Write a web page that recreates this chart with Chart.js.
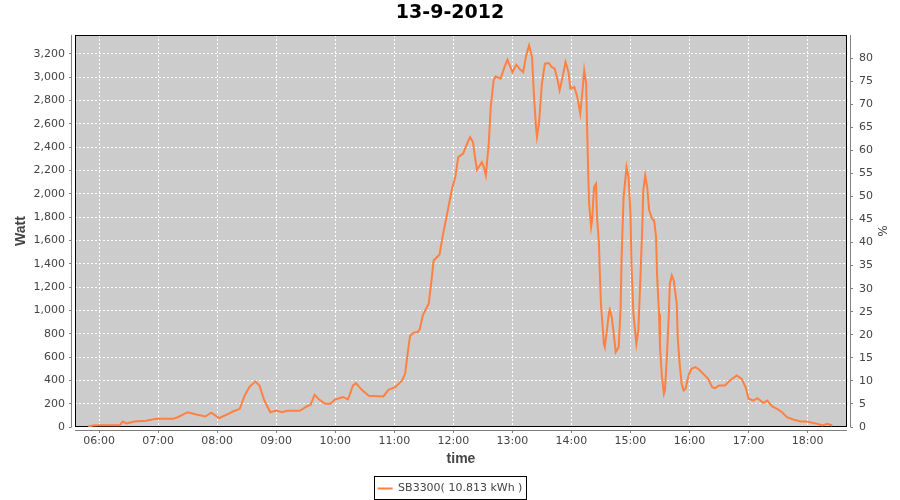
<!DOCTYPE html>
<html>
<head>
<meta charset="utf-8">
<script src="https://cdn.jsdelivr.net/npm/chart.js@4.4.0/dist/chart.umd.min.js"></script>
<style>html,body{margin:0;padding:0;background:#fff;}canvas{display:block;}</style>
</head>
<body>
<canvas id="c" width="900" height="500"></canvas>
<script>
const chartTitle = '13-9-2012';
const seriesLabel = 'SB3300( 10.813 kWh )';
const xTitle = 'time';
const yTitle = 'Watt';
const y2Title = '%';

const times = ["05:49","05:54","06:01","06:11","06:21","06:24","06:28","06:36","06:48","06:58",
"07:15","07:20","07:30","07:39","07:48","07:54","08:02","08:10","08:16","08:23",
"08:28","08:33","08:39","08:43","08:48","08:54","09:00","09:06","09:11","09:24",
"09:31","09:35","09:39","09:44","09:50","09:55","10:00","10:08","10:13","10:18",
"10:21","10:27","10:34","10:49","10:54","11:01","11:08","11:11","11:14","11:16",
"11:20","11:24","11:26","11:29","11:35","11:38","11:40","11:46","11:49","11:53",
"11:57","11:59","12:02","12:05","12:10","12:14","12:17","12:20","12:22","12:24",
"12:29","12:31","12:33","12:36","12:38","12:41","12:43","12:48","12:52","12:55",
"13:00","13:04","13:08","13:11","13:14","13:17","13:20","13:22","13:24","13:25",
"13:27","13:30","13:33","13:37","13:40","13:43","13:46","13:48","13:51","13:54",
"13:57","13:59","14:03","14:06","14:09","14:11","14:13","14:15","14:16","14:17",
"14:18","14:20","14:21","14:23","14:25","14:26","14:28","14:29","14:30","14:32",
"14:33","14:34","14:36","14:38","14:39","14:41","14:43","14:45","14:48","14:50",
"14:51","14:53","14:55","14:56","14:58","15:00","15:01","15:03","15:05","15:06",
"15:08","15:10","15:12","15:13","15:15","15:17","15:19","15:22","15:24","15:26",
"15:27","15:29","15:30","15:32","15:34","15:35","15:37","15:39","15:40","15:42",
"15:44","15:47","15:48","15:50","15:52","15:54","15:56","15:59","16:02","16:06",
"16:10","16:14","16:19","16:23","16:26","16:30","16:36","16:41","16:48","16:53",
"16:57","17:00","17:05","17:09","17:15","17:19","17:24","17:29","17:34","17:39",
"17:46","17:53","17:59","18:10","18:15","18:20","18:25"];

const watts = [4,12,15,15,15,47,30,47,53,70,
70,84,127,107,90,122,76,107,133,156,
270,347,390,356,227,127,142,127,139,139,
176,190,276,233,199,199,236,256,236,356,
376,319,268,262,319,341,399,456,656,780,
810,815,842,957,1057,1271,1428,1480,1628,1800,
1971,2057,2143,2315,2344,2430,2486,2443,2315,2207,
2272,2229,2158,2430,2744,2973,3007,2987,3087,3150,
3044,3107,3065,3044,3187,3273,3173,2830,2572,2486,
2601,2944,3116,3122,3087,3073,2973,2887,3001,3130,
3044,2902,2915,2830,2687,2859,3059,2944,2544,2201,
1915,1714,1772,2057,2086,1800,1572,1285,1057,828,
714,685,828,971,1006,942,800,642,685,1028,
1457,1972,2143,2229,2143,1829,1400,971,800,714,
828,1257,1714,2029,2158,2057,1858,1786,1772,1628,
1314,971,685,427,285,313,599,971,1229,1300,
1257,1057,770,542,371,313,328,442,499,513,
491,456,413,341,333,356,356,399,442,413,
341,242,227,247,208,227,176,156,127,84,
62,47,47,27,13,27,13];

const hourTicks = [6,7,8,9,10,11,12,13,14,15,16,17,18];
const hourLabels = ["06:00","07:00","08:00","09:00","10:00","11:00","12:00","13:00","14:00","15:00","16:00","17:00","18:00"];
const wattTicks = [0,200,400,600,800,1000,1200,1400,1600,1800,2000,2200,2400,2600,2800,3000,3200];
const pctTicks = [0,5,10,15,20,25,30,35,40,45,50,55,60,65,70,75,80];
const xRange = [5.593, 18.667];
const wattRange = [0, 3362];
const pctRange = [0, 85];

function toHours(t) { const p = t.split(':').map(Number); return p[0] + p[1] / 60; }

const TICK_FONT = {family: 'DejaVu Sans', size: 11};
const TICK_COLOR = '#444444';
const AXIS_GRAY = '#808080';

function alignPx(p) { return Math.round(p - 0.5) + 0.5; }

const decor = {
  id: 'decor',
  beforeDraw(chart) {
    const a = chart.chartArea, ctx = chart.ctx;
    ctx.save();
    ctx.fillStyle = '#cccccc';
    ctx.fillRect(a.left, a.top, a.right - a.left, a.bottom - a.top);
    ctx.restore();
  },
  beforeDatasetsDraw(chart) {
    const a = chart.chartArea, ctx = chart.ctx;
    ctx.save();
    ctx.strokeStyle = '#000';
    ctx.lineWidth = 1;
    ctx.strokeRect(a.left + 0.5, a.top + 0.5, a.right - a.left - 1, a.bottom - a.top - 1);
    ctx.restore();
  },
  afterDraw(chart) {
    const a = chart.chartArea, ctx = chart.ctx;
    ctx.save();
    ctx.strokeStyle = AXIS_GRAY;
    ctx.lineWidth = 1;
    ctx.beginPath();
    const lx = a.left - 3.5, rx = a.right + 3.5, by = a.bottom + 3.5;
    ctx.moveTo(lx, a.top); ctx.lineTo(lx, a.bottom);
    ctx.moveTo(rx, a.top); ctx.lineTo(rx, a.bottom);
    ctx.moveTo(a.left, by); ctx.lineTo(a.right, by);
    const ys = chart.scales.y, y2s = chart.scales.y2, xs = chart.scales.x;
    ys.ticks.forEach(t => { const p = alignPx(ys.getPixelForValue(t.value)); ctx.moveTo(lx - 2.5, p); ctx.lineTo(lx, p); });
    y2s.ticks.forEach(t => { const p = alignPx(y2s.getPixelForValue(t.value)); ctx.moveTo(rx, p); ctx.lineTo(rx + 2.5, p); });
    xs.ticks.forEach(t => { const p = alignPx(xs.getPixelForValue(t.value)); ctx.moveTo(p, by); ctx.lineTo(p, by + 2.5); });
    ctx.stroke();
    const lg = chart.legend;
    if (lg && lg.legendHitBoxes && lg.legendHitBoxes.length) {
      const hb = lg.legendHitBoxes[0];
      const cy = hb.top + hb.height / 2;
      ctx.strokeStyle = '#000';
      ctx.strokeRect(Math.round(hb.left - 4) + 0.5, Math.round(cy - 13) + 0.5, Math.round(hb.width + 7), 23);
    }
    ctx.restore();
  }
};

const ctx = document.getElementById('c').getContext('2d');
new Chart(ctx, {
  type: 'line',
  data: {
    datasets: [{
      label: seriesLabel,
      data: times.map((t, i) => ({x: toHours(t), y: watts[i]})),
      borderColor: '#FF8040',
      backgroundColor: '#FF8040',
      borderWidth: 2,
      pointRadius: 0,
      tension: 0,
      fill: false,
      xAxisID: 'x',
      yAxisID: 'y'
    }]
  },
  options: {
    responsive: false,
    animation: false,
    devicePixelRatio: 1,
    layout: {padding: {left: 0, right: 0, top: 0, bottom: -4}},
    plugins: {
      title: {
        display: true, text: chartTitle, color: '#000',
        font: {family: 'DejaVu Sans', size: 19, weight: 'bold', lineHeight: '23px'},
        padding: {top: 2, bottom: 10}
      },
      legend: {
        display: true, position: 'bottom',
        labels: {
          usePointStyle: true, pointStyle: 'line', pointStyleWidth: 15,
          color: TICK_COLOR, font: TICK_FONT, padding: 10
        }
      },
      tooltip: {enabled: false}
    },
    scales: {
      x: {
        type: 'linear', position: 'bottom',
        min: xRange[0], max: xRange[1],
        afterFit(s) { const lh = (s.chart.legend && s.chart.legend.height) || 31; s.height = 504 - lh - 427; },
        afterBuildTicks(s) { s.ticks = hourTicks.map(v => ({value: v})); },
        ticks: {autoSkip: false, maxRotation: 0, padding: 8, font: TICK_FONT, color: TICK_COLOR,
          callback: (v, i) => hourLabels[i]},
        grid: {color: '#ffffff', lineWidth: 1, drawTicks: false},
        border: {display: false, dash: [2, 2]},
        title: {display: true, text: xTitle, color: TICK_COLOR,
          font: {family: 'Liberation Sans', size: 14, weight: 'bold'}, padding: {top: 0, bottom: 5}}
      },
      y: {
        type: 'linear', position: 'left',
        min: wattRange[0], max: wattRange[1],
        afterFit(s) { s.width = 75; },
        afterBuildTicks(s) { s.ticks = wattTicks.map(v => ({value: v})); },
        ticks: {padding: 10, font: TICK_FONT, color: TICK_COLOR,
          callback: (v) => v.toLocaleString('en-US')},
        grid: {color: '#ffffff', lineWidth: 1, drawTicks: false},
        border: {display: false, dash: [2, 2]},
        title: {display: true, text: yTitle, color: TICK_COLOR,
          font: {family: 'Liberation Sans', size: 14, weight: 'bold'}, padding: {top: 13, bottom: 0}}
      },
      y2: {
        type: 'linear', position: 'right',
        min: pctRange[0], max: pctRange[1],
        afterFit(s) { s.width = 53; },
        afterBuildTicks(s) { s.ticks = pctTicks.map(v => ({value: v})); },
        ticks: {padding: 12, font: TICK_FONT, color: TICK_COLOR, callback: (v) => String(v)},
        grid: {display: false, drawTicks: false},
        border: {display: false},
        title: {display: true, text: y2Title, color: TICK_COLOR,
          font: {family: 'DejaVu Sans', size: 12}, padding: {top: 12, bottom: 0}}
      }
    }
  },
  plugins: [decor]
});
</script>
</body>
</html>
